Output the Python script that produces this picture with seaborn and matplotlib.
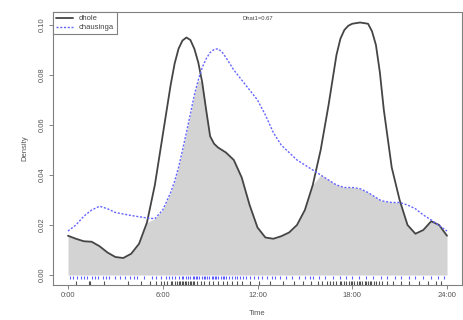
import numpy as np
import pandas as pd
import matplotlib
matplotlib.use("Agg")
import matplotlib.pyplot as plt
import seaborn as sns

# time grid (hours) and densities
hours = [0.0, 0.5, 1.0, 1.5, 2.0, 2.5, 3.0, 3.5, 4.0, 4.5, 5.0, 5.5, 6.0, 6.5, 6.75,
         7.0, 7.25, 7.5, 7.75, 8.0, 8.25, 8.5, 8.75, 9.0, 9.25, 9.5, 9.75, 10.0, 10.5,
         11.0, 11.5, 12.0, 12.5, 13.0, 13.5, 14.0, 14.5, 15.0, 15.5, 16.0, 16.5, 17.0,
         17.25, 17.5, 17.75, 18.0, 18.5, 19.0, 19.25, 19.5, 19.75, 20.0, 20.5, 21.0,
         21.5, 22.0, 22.5, 23.0, 23.5, 24.0]
dhole = [0.0157, 0.0145, 0.0135, 0.0133, 0.0115, 0.0090, 0.0072, 0.0068, 0.0085, 0.0125,
         0.0210, 0.0360, 0.0560, 0.0760, 0.0845,
         0.0905, 0.0938, 0.0950, 0.0940, 0.0905, 0.0850, 0.0770, 0.0660, 0.0555, 0.0525,
         0.0510, 0.0500, 0.0490, 0.0460,
         0.0390, 0.0280, 0.0190, 0.0150, 0.0145, 0.0155, 0.0170, 0.0200, 0.0260, 0.0360,
         0.0500, 0.0680, 0.0880,
         0.0945, 0.0980, 0.0997, 0.1005, 0.1010, 0.1005, 0.0975, 0.0920, 0.0810, 0.0660,
         0.0430, 0.0300,
         0.0200, 0.0165, 0.0180, 0.0215, 0.0200, 0.0157]
chausinga = [0.0176, 0.0200, 0.0235, 0.0260, 0.0275, 0.0265, 0.0250, 0.0244, 0.0238, 0.0233,
             0.0228, 0.0225, 0.0260, 0.0330, 0.0375,
             0.0430, 0.0500, 0.0570, 0.0645, 0.0720, 0.0780, 0.0830, 0.0865, 0.0890, 0.0902,
             0.0905, 0.0892, 0.0870, 0.0820,
             0.0780, 0.0740, 0.0700, 0.0640, 0.0570, 0.0520, 0.0490, 0.0460, 0.0440, 0.0420,
             0.0400, 0.0380, 0.0360,
             0.0355, 0.0350, 0.0350, 0.0350, 0.0345, 0.0330, 0.0320, 0.0310, 0.0300, 0.0295,
             0.0290, 0.0290,
             0.0280, 0.0265, 0.0240, 0.0220, 0.0198, 0.0176]

# detection times (hours) for the rugs
chausinga_times = [0.1, 0.3, 0.6, 0.8, 1.0, 1.2, 1.5, 1.7, 1.9, 2.2, 2.4, 2.6, 3.0, 3.3, 3.6,
                   3.9, 4.2, 4.4, 4.8, 5.3, 5.6, 5.9, 6.2, 6.4, 6.6, 6.8, 7.0, 7.2, 7.3, 7.5,
                   7.6, 7.7, 7.9, 8.0, 8.1, 8.2, 8.3, 8.5, 8.6, 8.7, 8.8, 8.9, 9.1, 9.2, 9.3,
                   9.4, 9.5, 9.7, 9.8, 9.9, 10.0, 10.2, 10.4, 10.6, 10.7, 10.9, 11.1, 11.3,
                   11.5, 11.8, 12.0, 12.3, 12.6, 12.9, 13.1, 13.4, 13.8, 14.2, 14.6, 15.0,
                   15.3, 15.5, 15.9, 16.3, 16.8, 17.2, 17.6, 18.0, 18.4, 18.9, 19.3, 19.8,
                   20.2, 20.7, 21.1, 21.6, 22.0, 22.5, 23.0, 23.4, 23.8]
dhole_times = [0.5, 1.3, 1.4, 2.3, 3.8, 4.6, 5.2, 5.6, 5.9, 6.1, 6.3, 6.5, 6.6, 6.8, 6.9, 7.0,
               7.1, 7.2, 7.3, 7.4, 7.5, 7.6, 7.7, 7.8, 7.9, 8.0, 8.2, 8.4, 8.6, 8.9, 9.2, 9.5,
               9.8, 10.1, 10.4, 10.7, 11.0, 11.5, 12.1, 12.8, 13.6, 14.3, 14.9, 15.4, 15.8,
               16.1, 16.4, 16.6, 16.8, 17.0, 17.2, 17.3, 17.5, 17.6, 17.8, 17.9, 18.0, 18.1,
               18.3, 18.4, 18.5, 18.6, 18.8, 18.9, 19.0, 19.1, 19.2, 19.4, 19.5, 19.7, 19.9,
               20.2, 20.6, 21.1, 21.6, 22.2, 22.8, 23.3, 23.6]

xticks = [0, 6, 12, 18, 24]
xtick_labels = ["0:00", "6:00", "12:00", "18:00", "24:00"]
yticks = [0.00, 0.02, 0.04, 0.06, 0.08, 0.10]

sns.set_style("ticks")
plt.rcParams["font.family"] = ["Liberation Sans", "DejaVu Sans"]

df = pd.DataFrame({"Time": hours, "dhole": dhole, "chausinga": chausinga})

fig = plt.figure(figsize=(4.63, 3.2), dpi=100)
ax = fig.add_axes([53 / 463, 1 - 285 / 320, 409 / 463, 273 / 320])

# overlap area
ax.fill_between(df["Time"], 0, np.minimum(df["dhole"], df["chausinga"]),
                color="#d3d3d3", linewidth=0)

sns.lineplot(data=df, x="Time", y="dhole", ax=ax, color="#454545", linewidth=1.3,
             label="dhole")
sns.lineplot(data=df, x="Time", y="chausinga", ax=ax, color="#6464ff", linewidth=1.0,
             linestyle=(0, (1.5, 1.2)), label="chausinga")

# rugs
ax.vlines(chausinga_times, -0.0017, -0.0002, color="#2a2aff", linewidth=0.8, alpha=0.75)
ax.vlines(dhole_times, -0.0038, -0.0023, color="#1a1a1a", linewidth=0.8, alpha=0.75)

ax.set_xlim(-0.95, 24.95)
ax.set_ylim(-0.004, 0.1052)
ax.set_xticks(xticks)
ax.set_xticklabels(xtick_labels)
ax.set_yticks(yticks)
ax.set_yticklabels(["0.00", "0.02", "0.04", "0.06", "0.08", "0.10"], rotation=90, va="center")
ax.tick_params(axis="both", labelsize=5.5, length=3, width=0.6, color="#707070",
               labelcolor="#555555", pad=2)
ax.set_xlabel("Time", fontsize=5.5, color="#555555", labelpad=8)
ax.set_ylabel("Density", fontsize=5.5, color="#555555", labelpad=8)
for s in ax.spines.values():
    s.set_color("#808080")
    s.set_linewidth(0.8)

ax.text(0.5, 0.985, "Dhat1=0.67", transform=ax.transAxes, ha="center", va="top",
        fontsize=4.2, color="#444444")

leg = ax.legend(loc="upper left", bbox_to_anchor=(0, 1), borderaxespad=0, fontsize=5.5,
                frameon=True, fancybox=False, edgecolor="#808080", framealpha=1,
                handlelength=2.2, handletextpad=0.8, labelspacing=0.2, borderpad=0.4)
leg.get_frame().set_linewidth(0.8)
for t in leg.get_texts():
    t.set_color("#444444")

fig.savefig("out.png", dpi=100)
